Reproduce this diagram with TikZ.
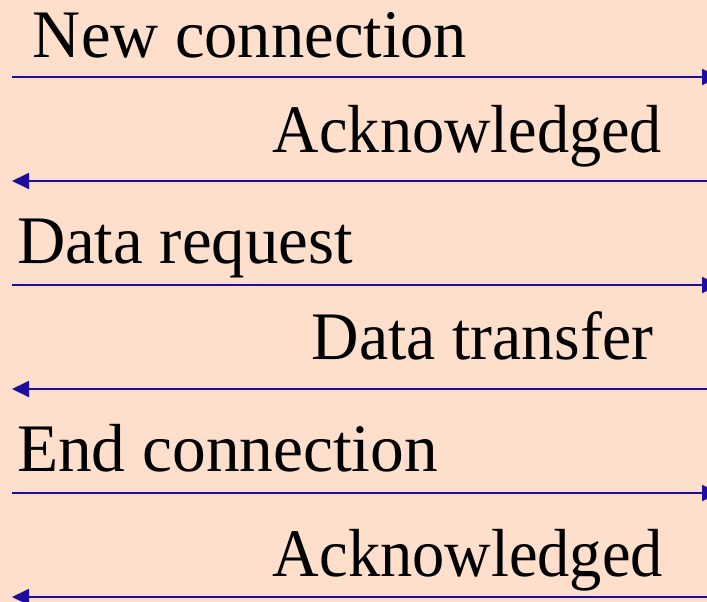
\documentclass[tikz,border=0pt]{standalone}
\usepackage{fontspec}
\setmainfont{Liberation Serif}
\usetikzlibrary{arrows.meta}
\definecolor{bgpeach}{RGB}{253,223,203}
\definecolor{msgblue}{RGB}{30,12,160}
\newcommand{\fitw}[2]{\resizebox{#1}{\height}{#2}}
\tikzset{
  msg/.style={draw=msgblue, line width=1.8pt, -{Triangle[length=17pt,width=16pt]}},
  lbl/.style={inner sep=0pt, outer sep=0pt, font=\fontsize{68}{80}\selectfont, text=black}
}
\begin{document}
\begin{tikzpicture}[x=1pt,y=1pt]
  \useasboundingbox (0,0) rectangle (707,-602);
  \fill[bgpeach] (0,0) rectangle (707,-602);
  \clip (0,0) rectangle (707,-602);
  % coordinates of message ends
  \foreach \i/\y in {1/77,2/181,3/285,4/389,5/493,6/597}{
    \coordinate (L\i) at (12,-\y);
    \coordinate (R\i) at (719,-\y);
  }
  % labels
  \node[lbl, anchor=base west] (t1) at (33,-58)  {\fitw{434pt}{New connection}};
  \node[lbl, anchor=base east] (t2) at (662,-152) {\fitw{389pt}{Acknowledged}};
  \node[lbl, anchor=base west] (t3) at (17,-263) {\fitw{336pt}{Data request}};
  \node[lbl, anchor=base east] (t4) at (653,-359) {\fitw{341pt}{Data transfer}};
  \node[lbl, anchor=base west] (t5) at (17,-471) {\fitw{421pt}{End connection}};
  \node[lbl, anchor=base east] (t6) at (663,-576) {\fitw{390pt}{Acknowledged}};
  % messages
  \draw[msg] (L1) -- (R1);
  \draw[msg] (R2) -- (L2);
  \draw[msg] (L3) -- (R3);
  \draw[msg] (R4) -- (L4);
  \draw[msg] (L5) -- (R5);
  \draw[msg] (R6) -- (L6);
\end{tikzpicture}
\end{document}
